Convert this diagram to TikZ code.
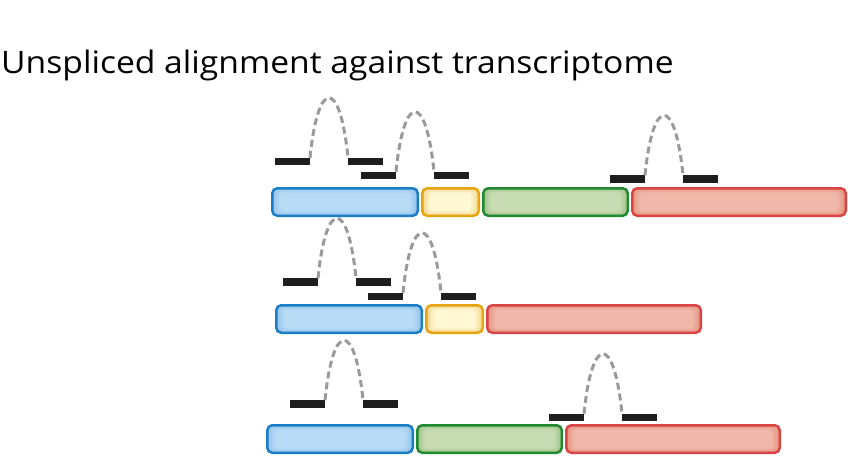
\documentclass[tikz,border=0pt]{standalone}
\usepackage{fontspec}
\usepackage{graphicx}
\setmainfont{Open Sans}
\usetikzlibrary{positioning}

\definecolor{bluedraw}{HTML}{1A7DC6}
\definecolor{bluein}{HTML}{B8DBF6}
\definecolor{blueout}{HTML}{94C4EC}
\definecolor{yeldraw}{HTML}{E6A312}
\definecolor{yelin}{HTML}{FFF8D2}
\definecolor{yelout}{HTML}{F4D890}
\definecolor{grndraw}{HTML}{1F8A2F}
\definecolor{grnin}{HTML}{C8DCB3}
\definecolor{grnout}{HTML}{A2C28B}
\definecolor{reddraw}{HTML}{D94444}
\definecolor{redin}{HTML}{F0B8AA}
\definecolor{redout}{HTML}{E6937F}
\definecolor{readfill}{HTML}{1E1E1E}
\definecolor{arcgray}{HTML}{9A9A9A}

\begin{document}
\begin{tikzpicture}[
  x=1pt, y=-1pt,
  exon/.style={draw, line width=2.5pt, rounded corners=5pt, minimum height=27.5pt,
               inner sep=0pt,
               path picture={
                 \foreach \k/\p in {0/0,1/20,2/40,3/60,4/80,5/100}
                   \fill[exin!\p!exout, rounded corners=4pt]
                     ([shift={(\k*1.5pt,\k*0.9pt)}]path picture bounding box.south west)
                     rectangle
                     ([shift={(-\k*1.5pt,-\k*0.9pt)}]path picture bounding box.north east);
               }},
  blue/.style={exon, draw=bluedraw, minimum width=145.5pt,
               /utils/exec={\colorlet{exin}{bluein}\colorlet{exout}{blueout}}},
  yel/.style={exon, draw=yeldraw, minimum width=56.5pt,
              /utils/exec={\colorlet{exin}{yelin}\colorlet{exout}{yelout}}},
  grn/.style={exon, draw=grndraw, minimum width=144.5pt,
              /utils/exec={\colorlet{exin}{grnin}\colorlet{exout}{grnout}}},
  red/.style={exon, draw=reddraw, minimum width=213.5pt,
              /utils/exec={\colorlet{exin}{redin}\colorlet{exout}{redout}}},
  read/.style={fill=readfill, minimum width=35pt, minimum height=7.5pt,
               inner sep=0pt, outer sep=0pt},
  junction/.style={draw=arcgray, line width=3pt, dash pattern=on 7pt off 4pt},
]
\useasboundingbox (0,0) rectangle (848,456);

\node[anchor=base west, font=\fontsize{31}{36}\selectfont, inner sep=0pt] (title)
  at (1,73) {\scalebox{1.085}[1]{Unspliced alignment against transcriptome}};

% transcript 1
\node[blue, anchor=west] (blueA) at (271,202) {};
\node[yel, right=2pt of blueA] (yelA) {};
\node[grn, right=2pt of yelA] (grnA) {};
\node[red, right=2pt of grnA] (redA) {};

% transcript 2
\node[blue, anchor=west] (blueB) at (275,319) {};
\node[yel, right=2pt of blueB] (yelB) {};
\node[red, right=2pt of yelB] (redB) {};

% transcript 3
\node[blue, anchor=west] (blueC) at (266,439) {};
\node[grn, right=2pt of blueC] (grnC) {};
\node[red, right=2pt of grnC] (redC) {};

% read pairs, transcript 1
\node[read] (ra1) at (292.5,161.5) {};
\node[read, right=38pt of ra1] (ra2) {};
\node[read] (rb1) at (378.5,175.5) {};
\node[read, right=38pt of rb1] (rb2) {};
\node[read] (rc1) at (627.5,179) {};
\node[read, right=38pt of rc1] (rc2) {};

% read pairs, transcript 2
\node[read] (sa1) at (300.5,282) {};
\node[read, right=38pt of sa1] (sa2) {};
\node[read] (sb1) at (385.5,296.5) {};
\node[read, right=38pt of sb1] (sb2) {};

% read pairs, transcript 3
\node[read] (ta1) at (307.5,404) {};
\node[read, right=38pt of ta1] (ta2) {};
\node[read] (tb1) at (566.5,417.5) {};
\node[read, right=38pt of tb1] (tb2) {};

% mate links
\draw[junction] (ra1.north east) .. controls +(8,-80) and +(-8,-80) .. (ra2.north west);
\draw[junction] (rb1.north east) .. controls +(8,-80) and +(-8,-80) .. (rb2.north west);
\draw[junction] (rc1.north east) .. controls +(8,-80) and +(-8,-80) .. (rc2.north west);
\draw[junction] (sa1.north east) .. controls +(8,-80) and +(-8,-80) .. (sa2.north west);
\draw[junction] (sb1.north east) .. controls +(8,-80) and +(-8,-80) .. (sb2.north west);
\draw[junction] (ta1.north east) .. controls +(8,-80) and +(-8,-80) .. (ta2.north west);
\draw[junction] (tb1.north east) .. controls +(8,-80) and +(-8,-80) .. (tb2.north west);
\end{tikzpicture}
\end{document}
